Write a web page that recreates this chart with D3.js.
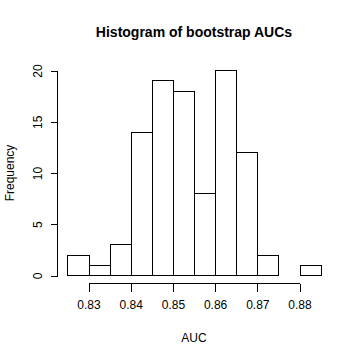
<!DOCTYPE html>
<html><head><meta charset="utf-8">
<script src="https://cdn.jsdelivr.net/npm/d3@7"></script>
<style>body{margin:0;background:#fff}svg{display:block}text{font-family:"Liberation Sans",Arial,sans-serif;fill:#000}</style>
</head><body>
<script>
const binStarts = [0.825,0.830,0.835,0.840,0.845,0.850,0.855,0.860,0.865,0.870,0.875,0.880];
const binWidth = 0.005;
const counts = [2,1,3,14,19,18,8,20,12,2,0,1];
const xTicks = [0.83,0.84,0.85,0.86,0.87,0.88];
const yTicks = [0,5,10,15,20];
const title = "Histogram of bootstrap AUCs";
const xLabel = "AUC", yLabel = "Frequency";

const W=360,H=360;
const svg=d3.select("body").append("svg").attr("width",W).attr("height",H);
svg.append("rect").attr("width",W).attr("height",H).attr("fill","#fff");
const x=d3.scaleLinear().domain([0.83,0.88]).range([88.5,299.5]);
const y=d3.scaleLinear().domain([0,20]).range([275.5,70.5]);

svg.append("g").selectAll("rect").data(counts).join("rect")
 .attr("x",(d,i)=>Math.round(x(binStarts[i]))+0.5)
 .attr("y",d=>Math.round(y(d)-0.5)+0.5)
 .attr("width",(d,i)=>Math.round(x(binStarts[i]+binWidth))-Math.round(x(binStarts[i])))
 .attr("height",d=>Math.round(y(0)-0.5)-Math.round(y(d)-0.5))
 .attr("fill","none").attr("stroke","#000").attr("stroke-width",1).attr("shape-rendering","crispEdges");

const xAxis=d3.axisBottom(x).tickValues(xTicks).tickSize(8).tickPadding(9).tickFormat(d3.format(".2f"));
const gx=svg.append("g").attr("transform","translate(0,283.5)").call(xAxis);
gx.selectAll("text").attr("font-size","12px").style("font-family","'Liberation Sans',Arial,sans-serif");
gx.selectAll("line,path").attr("stroke","#000").attr("shape-rendering","crispEdges");
gx.select("path").attr("d",`M${x(0.83)},0H${x(0.88)}`);

const yAxis=d3.axisLeft(y).tickValues(yTicks).tickSize(7).tickPadding(0).tickFormat(d3.format("d"));
const gy=svg.append("g").attr("transform","translate(57.5,0)").call(yAxis);
gy.select("path").attr("d",`M0,${y(0)}V${y(20)}`).attr("stroke","#000").attr("shape-rendering","crispEdges");
gy.selectAll("line").attr("stroke","#000").attr("shape-rendering","crispEdges");
gy.selectAll(".tick text").attr("font-size","12px").style("font-family","'Liberation Sans',Arial,sans-serif")
 .attr("x",null).attr("dy",null).attr("text-anchor","middle")
 .attr("transform","translate(-20,0) rotate(-90)").attr("dy","0.35em");

svg.append("text").attr("x",194).attr("y",37).attr("text-anchor","middle")
 .attr("font-size","14px").attr("font-weight","bold").text(title);
svg.append("text").attr("x",194).attr("y",342).attr("text-anchor","middle").attr("font-size","12px").text(xLabel);
svg.append("text").attr("transform","translate(14,173) rotate(-90)").attr("text-anchor","middle").attr("font-size","12px").text(yLabel);
</script>
</body></html>
